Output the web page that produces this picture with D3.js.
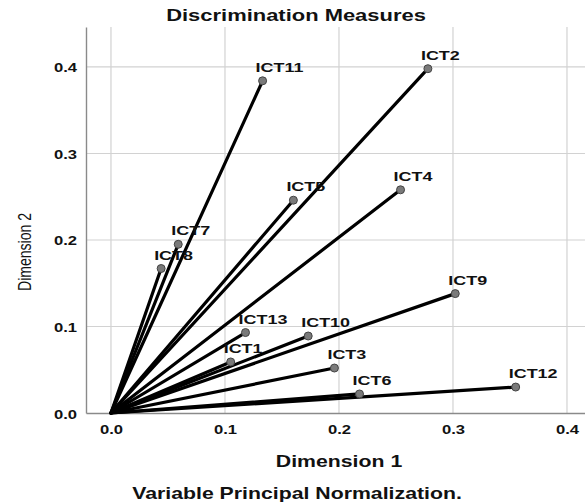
<!DOCTYPE html>
<html>
<head>
<meta charset="utf-8">
<script src="https://cdn.jsdelivr.net/npm/d3@7"></script>
<style>
  body { margin: 0; background: #fff; }
  text { font-family: "Liberation Sans", Arial, sans-serif; }
</style>
</head>
<body>
<div id="chart"></div>
<script>
// variable names and discrimination measures
const variables = ["ICT1", "ICT2", "ICT3", "ICT4", "ICT5", "ICT6", "ICT7",
  "ICT8", "ICT9", "ICT10", "ICT11", "ICT12", "ICT13"];
const dim1 = [0.105, 0.278, 0.196, 0.254, 0.160, 0.218, 0.059,
  0.044, 0.302, 0.173, 0.133, 0.355, 0.118];
const dim2 = [0.059, 0.398, 0.052, 0.258, 0.246, 0.022, 0.195,
  0.167, 0.138, 0.089, 0.384, 0.030, 0.093];
const ticks = [0.0, 0.1, 0.2, 0.3, 0.4];

const width = 585, height = 503;
const plotLeft = 86, plotTop = 27, plotRight = 585, plotBottom = 413;
const stretch = 1.33; // the source text is drawn wide

const svg = d3.select("#chart")
  .append("svg")
  .attr("width", width)
  .attr("height", height);

const x = d3.scaleLinear().domain([-0.0219, 0.4158]).range([plotLeft, plotRight]);
const y = d3.scaleLinear().domain([0, 0.4462]).range([plotBottom, plotTop]);

const data = variables.map((v, i) => ({ name: v, d1: dim1[i], d2: dim2[i] }));

// grid
svg.append("g")
  .selectAll("line")
  .data(ticks)
  .join("line")
  .attr("x1", d => x(d)).attr("x2", d => x(d))
  .attr("y1", plotTop).attr("y2", plotBottom)
  .attr("stroke", "#d2d2d2").attr("stroke-width", 1.2);

svg.append("g")
  .selectAll("line")
  .data(ticks.slice(1))
  .join("line")
  .attr("x1", plotLeft).attr("x2", plotRight)
  .attr("y1", d => y(d)).attr("y2", d => y(d))
  .attr("stroke", "#d2d2d2").attr("stroke-width", 1.2);

// axes
const xAxis = svg.append("g")
  .attr("transform", `translate(0,${plotBottom})`)
  .call(d3.axisBottom(x).tickValues(ticks).tickFormat(d3.format(".1f")).tickSize(0).tickPadding(12));
const yAxis = svg.append("g")
  .attr("transform", `translate(${plotLeft},0)`)
  .call(d3.axisLeft(y).tickValues(ticks).tickFormat(d3.format(".1f")).tickSize(0));

[xAxis, yAxis].forEach(a => {
  a.select(".domain").attr("stroke", "#8a8a8a").attr("stroke-width", 1.4);
  a.selectAll("text")
    .style("font-family", "'Liberation Sans', Arial, sans-serif")
    .style("font-size", "12.5px")
    .style("font-weight", "bold")
    .attr("fill", "#111")
    .attr("transform", `scale(${stretch},1)`);
});
yAxis.selectAll("text").attr("x", -9 / stretch).attr("dy", "0.4em");

// vectors from origin
svg.append("g")
  .selectAll("line")
  .data(data)
  .join("line")
  .attr("x1", x(0)).attr("y1", y(0))
  .attr("x2", d => x(d.d1)).attr("y2", d => y(d.d2))
  .attr("stroke", "#000")
  .attr("stroke-width", 3.2)
  .attr("stroke-linecap", "round");

svg.append("g")
  .selectAll("circle")
  .data(data)
  .join("circle")
  .attr("cx", d => x(d.d1)).attr("cy", d => y(d.d2))
  .attr("r", 4)
  .attr("fill", "#7a7a7a")
  .attr("stroke", "#444")
  .attr("stroke-width", 1);

svg.append("g")
  .selectAll("text")
  .data(data)
  .join("text")
  .attr("transform", d => `translate(${x(d.d1) - 7},${y(d.d2) - 9}) scale(${stretch},1)`)
  .attr("font-size", "13.5px")
  .attr("font-weight", "bold")
  .attr("fill", "#111")
  .text(d => d.name);

// titles
function wideText(tx, ty, size, str) {
  svg.append("text")
    .attr("transform", `translate(${tx},${ty}) scale(${stretch},1)`)
    .attr("text-anchor", "middle")
    .attr("font-size", size + "px").attr("font-weight", "bold")
    .attr("fill", "#111")
    .text(str);
}
wideText(296, 21, 16.5, "Discrimination Measures");
wideText(339, 467, 16, "Dimension 1");
wideText(297, 499, 16, "Variable Principal Normalization.");

// y title is narrow in the source
svg.append("text")
  .attr("transform", "translate(31,252) rotate(-90) scale(0.78,1)")
  .attr("text-anchor", "middle")
  .attr("font-size", "18px")
  .attr("fill", "#111")
  .text("Dimension 2");
</script>
</body>
</html>
